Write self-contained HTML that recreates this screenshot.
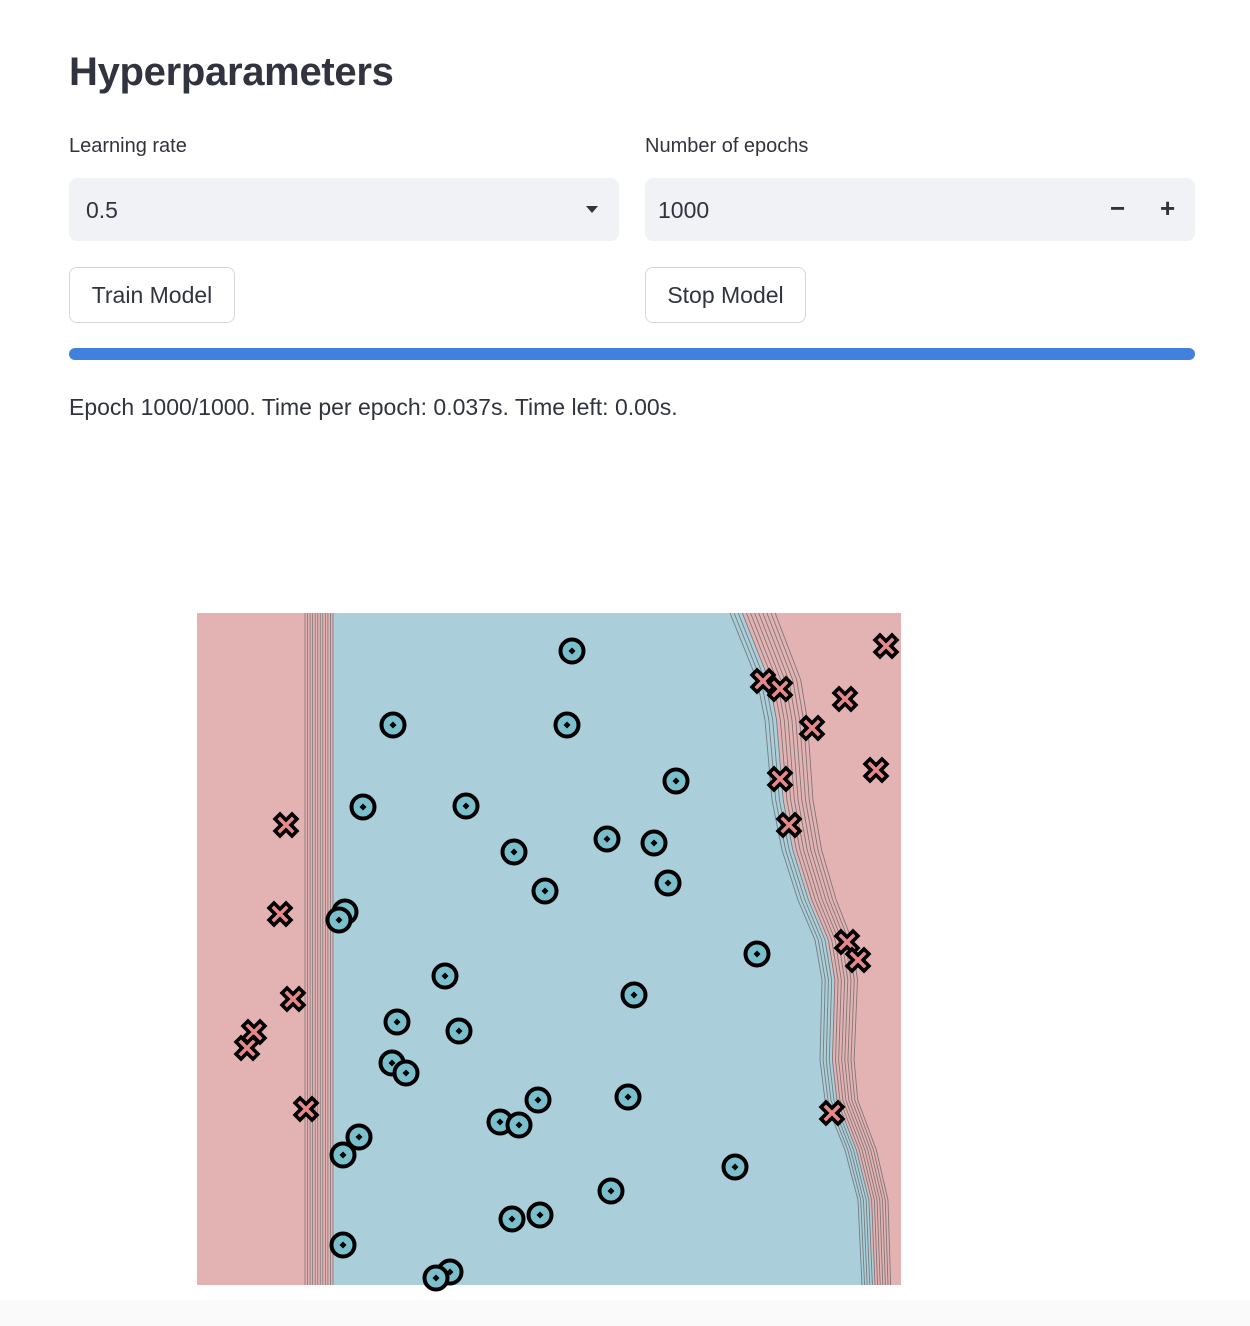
<!DOCTYPE html>
<html><head><meta charset="utf-8">
<style>
body{margin:0;width:1250px;height:1326px;background:#fff;font-family:"Liberation Sans",sans-serif;color:#31333f;position:relative;overflow:hidden}
.abs{position:absolute}
h1{position:absolute;left:69px;top:50px;margin:0;font-size:40px;font-weight:bold;letter-spacing:-0.3px}
.lbl{font-size:20px}
.box{background:#f0f2f6;border-radius:8px;height:63px}
.btn{border:1px solid #d5d6da;border-radius:8px;background:#fff;height:54px;font-size:23px;display:flex;align-items:center;justify-content:center}
</style></head><body>
<h1>Hyperparameters</h1>
<div class="abs lbl" style="left:69px;top:135px">Learning rate</div>
<div class="abs lbl" style="left:645px;top:135px">Number of epochs</div>
<div class="abs box" style="left:69px;top:178px;width:550px">
 <span class="abs" style="left:17px;top:19px;font-size:23px">0.5</span>
 <span class="abs" style="left:517px;top:28px;width:0;height:0;border-left:6px solid transparent;border-right:6px solid transparent;border-top:7px solid #31333f"></span>
</div>
<div class="abs box" style="left:645px;top:178px;width:550px">
 <span class="abs" style="left:13px;top:19px;font-size:23px">1000</span>
 <span class="abs" style="left:465px;top:15px;font-size:26px;font-weight:bold">−</span>
 <span class="abs" style="left:515px;top:15px;font-size:26px;font-weight:bold">+</span>
</div>
<div class="abs btn" style="left:69px;top:267px;width:164px">Train Model</div>
<div class="abs btn" style="left:645px;top:267px;width:159px">Stop Model</div>
<div class="abs" style="left:69px;top:348px;width:1126px;height:12px;border-radius:6px;background:#4180dc"></div>
<div class="abs" style="left:69px;top:394px;font-size:23px">Epoch 1000/1000. Time per epoch: 0.037s. Time left: 0.00s.</div>
<div class="abs" style="left:0;top:1300px;width:1250px;height:26px;background:#fafafa"></div>

<svg class="abs" style="left:0;top:0" width="1250" height="1326" id="chart"></svg>
<script>
const circlesX=[375,196,370,479,166,269,317,410,457,471,348,148,142,560,248,437,200,262,195,209,341,431,303,322,162,146,538,414,315,343,146,253,239];
const circlesY=[634,560,560,504,478,479,433,446,442,402,394,373,365,331,309,290,263,254,222,212,185,188,163,160,148,130,118,94,66,70,40,13,7];
const crossesX=[689,566,583,648,615,679,583,592,89,83,650,661,96,57,50,109,635];
const crossesY=[639,604,596,586,557,515,506,460,460,371,343,325,286,253,237,176,172];
const boundY=[672,605,565,485,435,385,345,305,225,185,135,85,0];
const boundRightX=[533,560,568,575,585,601,618,625,623,628,648,661,665];
const leftBandX=[108,136];
const NS="http://www.w3.org/2000/svg";
const svg=document.getElementById('chart');
const L=197,T=613,W=704,H=672;
const sx=v=>L+v/704*W, sy=v=>T+H-v/672*H;
function mk(t,a){const e=document.createElementNS(NS,t);for(const k in a)e.setAttribute(k,a[k]);svg.appendChild(e);return e;}
let e=mk('rect',{x:L,y:T,width:W,height:H,fill:'#e3b3b4'});


let d=`M${sx(leftBandX[1])},${sy(672)}`;
boundY.forEach((y,i)=>{d+=` L${sx(boundRightX[i]+12)},${sy(y)}`});
d+=` L${sx(leftBandX[1])},${sy(0)} Z`;
e=mk('path',{d:d,fill:'#abcfda'});


for(let i=0;i<12;i++){const x=leftBandX[0]+(leftBandX[1]-leftBandX[0])*i/11;
 e=mk('line',{x1:sx(x),y1:T,x2:sx(x),y2:T+H,stroke:'#666',"stroke-width":0.8,opacity:0.8});
 
 }
for(let i=0;i<12;i++){let p='';const n=boundY.length-1;boundY.forEach((y,j)=>{const off=i*(4.1-1.5*j/n);p+=(j?' L':'M')+sx(boundRightX[j]+off)+','+sy(y)});
 e=mk('path',{d:p,fill:'none',stroke:'#666',"stroke-width":0.9,opacity:0.8,"stroke-linejoin":'round'});
 
 }
const xs='M-11,-6 L-6,-11 L0,-5 L6,-11 L11,-6 L5,0 L11,6 L6,11 L0,5 L-6,11 L-11,6 L-5,0 Z';
crossesX.forEach((x,i)=>{e=mk('path',{d:xs,transform:`translate(${sx(x)},${sy(crossesY[i])})`,fill:'#e48a8a',stroke:'#000',"stroke-width":3.5,"stroke-linejoin":'miter'});
 
 });
circlesX.forEach((x,i)=>{const cx=sx(x),cy=sy(circlesY[i]);
 e=mk('circle',{cx:cx,cy:cy,r:11.5,fill:'#7bbfcc',stroke:'#000',"stroke-width":4});
 
 
 e=mk('path',{d:`M${cx-3.5},${cy} L${cx},${cy-3.5} L${cx+3.5},${cy} L${cx},${cy+3.5} Z`,fill:'#000'});
 
 });
</script>
</body></html>
